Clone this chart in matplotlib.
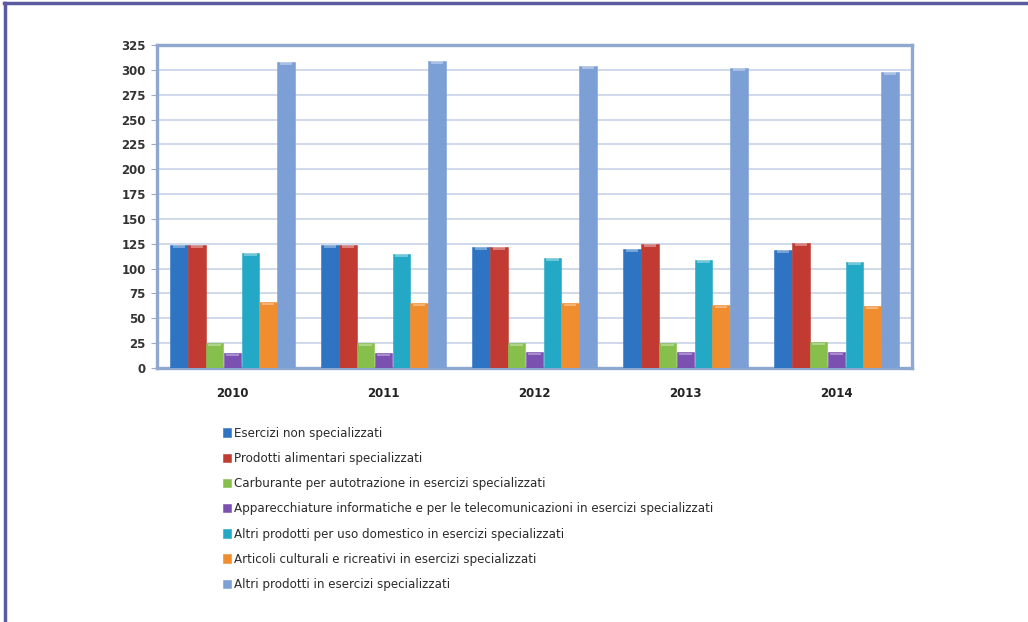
import matplotlib.pyplot as plt
import numpy as np
from matplotlib.lines import Line2D

anni = ['2010', '2011', '2012', '2013', '2014']
categorie = [
    'Esercizi non specializzati',
    'Prodotti alimentari specializzati',
    'Carburante per autotrazione in esercizi specializzati',
    'Apparecchiature informatiche e per le telecomunicazioni in esercizi specializzati',
    'Altri prodotti per uso domestico in esercizi specializzati',
    'Articoli culturali e ricreativi in esercizi specializzati',
    'Altri prodotti in esercizi specializzati',
]
non_spec = [124, 124, 122, 120, 119]
alimentari = [124, 124, 122, 125, 126]
carburante = [25, 25, 25, 25, 26]
informatica = [15, 15, 16, 16, 16]
domestico = [116, 115, 111, 109, 107]
cultura = [66, 65, 65, 63, 62]
altri = [308, 309, 304, 302, 298]

serie = [non_spec, alimentari, carburante, informatica, domestico, cultura, altri]
colori = ['#2f74c2', '#c23b33', '#86bf4c', '#7a50b0', '#23a9c6', '#f08d2e', '#7c9fd6']

fig = plt.figure(figsize=(10.28, 6.22), dpi=100)
fig.patch.set_facecolor('white')

# cornice della pagina (solo sopra e a sinistra)
fig.add_artist(Line2D([4 / 1028, 1], [1 - 3 / 622, 1 - 3 / 622], color='#5a5aa0', lw=2.5))
fig.add_artist(Line2D([5 / 1028, 5 / 1028], [0, 1 - 3 / 622], color='#5a5aa0', lw=2.5))

ax = fig.add_axes([157 / 1028, 1 - 368 / 622, 755 / 1028, 323 / 622])
x = np.arange(len(anni))
w = 0.118
for i, (vals, col) in enumerate(zip(serie, colori)):
    pos = x + (i - 3) * w
    ax.bar(pos, vals, width=w * 0.98, color=col, edgecolor=col, lw=0.4, zorder=3,
           label=categorie[i])
    # riflesso chiaro sul bordo superiore delle colonne
    ax.bar(pos, [2.5] * len(vals), bottom=np.array(vals) - 3, width=w * 0.7,
           color='white', alpha=0.35, lw=0, zorder=4)

ax.set_xlim(-0.5, 4.5)
ax.set_ylim(0, 325)
ax.set_yticks(range(0, 326, 25))
ax.set_xticks(x)
ax.set_xticklabels(anni, fontsize=8.5, fontweight='bold', color='#222222')
ax.tick_params(axis='x', length=0, pad=14)
ax.tick_params(axis='y', length=4, color='#9aaccc', labelsize=8.5, labelcolor='#333333', pad=4)
for t in ax.get_yticklabels():
    t.set_fontweight('bold')
ax.yaxis.grid(True, color='#c2cfe4', lw=1.1, zorder=0)
ax.set_axisbelow(True)
for s in ax.spines.values():
    s.set_color('#8ea8cf')
    s.set_linewidth(2.4)

handles, labels = ax.get_legend_handles_labels()
leg = fig.legend(handles, labels, loc='upper left', bbox_to_anchor=(218 / 1028, 1 - 422 / 622),
                 frameon=False, fontsize=8.6, handlelength=0.7, handleheight=0.7,
                 handletextpad=0.2, labelspacing=1.02, borderaxespad=0)
for t in leg.get_texts():
    t.set_color('#2a2a2a')

fig.savefig('out.png', dpi=100)
